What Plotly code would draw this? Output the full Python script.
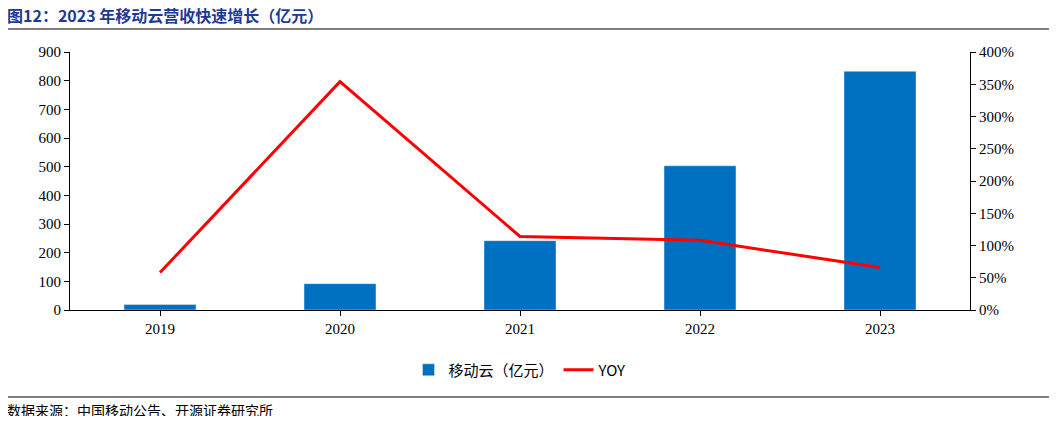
import plotly.graph_objects as go

years = ["2019", "2020", "2021", "2022", "2023"]
revenue = [19, 92, 242, 503, 833]
yoy = [58, 354, 114, 108, 66]

fig = go.Figure()
fig.add_trace(go.Bar(x=years, y=revenue, name="移动云（亿元）", marker_color="#0070C0", width=0.4, yaxis="y"))
fig.add_trace(go.Scatter(x=years, y=yoy, name="YOY", mode="lines", line=dict(color="#FF0000", width=3), yaxis="y2"))

O = 8  # page body margin
W, H = 1057 - 2 * O, 424 - 2 * O
L, T = 70 - O, 52 - O
R = 1057 - 970 - O
B = 424 - 310 - O
pw, ph = W - L - R, H - T - B
px = lambda x: (x - O - L) / pw
py = lambda y: (H - B - (y - O)) / ph

fig.update_layout(
    width=W, height=H, margin=dict(l=L, r=R, t=T, b=B),
    plot_bgcolor="white", paper_bgcolor="white",
    font=dict(family="Times New Roman, Liberation Serif, Noto Sans CJK SC", size=15, color="black"),
    xaxis=dict(showline=True, linecolor="black", ticks="outside", ticklen=5, tickcolor="black"),
    yaxis=dict(range=[0, 900], dtick=100, showline=True, linecolor="black", ticks="outside", tickcolor="black", showgrid=False, zeroline=False),
    yaxis2=dict(range=[0, 400], dtick=50, overlaying="y", side="right", ticksuffix="%", showline=True, linecolor="black", ticks="outside", tickcolor="black", showgrid=False),
    legend=dict(orientation="h", x=0.5, xanchor="center", y=py(370), yanchor="middle", font=dict(family="Noto Sans CJK SC, Liberation Serif", size=15)),
    bargap=0.6,
)
fig.add_annotation(xref="paper", yref="paper", x=px(5), y=py(15), xanchor="left", yanchor="middle", showarrow=False,
                   text="<b>图12：2023 年移动云营收快速增长（亿元）</b>", font=dict(color="#1F3A93", size=16, family="Noto Sans CJK SC"))
fig.add_annotation(xref="paper", yref="paper", x=px(5), y=py(410), xanchor="left", yanchor="middle", showarrow=False,
                   text="数据来源：中国移动公告、开源证券研究所", font=dict(size=14, family="Noto Sans CJK SC"))
for yy in (29, 397):
    fig.add_shape(type="line", xref="paper", yref="paper", x0=px(8), x1=px(1049), y0=py(yy), y1=py(yy), line=dict(color="black", width=1))
fig.write_html("out.html")
